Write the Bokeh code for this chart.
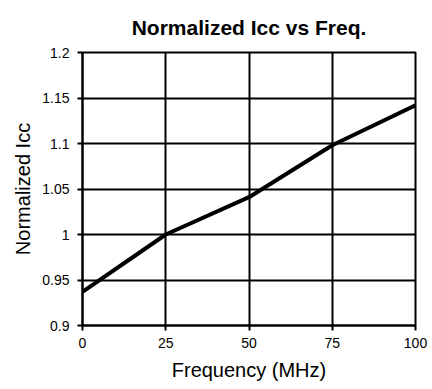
from bokeh.plotting import figure
from bokeh.models import Range1d, FixedTicker
from bokeh.embed import file_html
from bokeh.resources import INLINE

freq = [0, 25, 50, 75, 100]
icc = [0.937, 1.0, 1.041, 1.098, 1.142]
x_ticks = [0, 25, 50, 75, 100]
y_ticks = [0.9, 0.95, 1.0, 1.05, 1.1, 1.15, 1.2]
y_labels = {0.9: "0.9", 0.95: "0.95", 1.0: "1", 1.05: "1.05", 1.1: "1.1", 1.15: "1.15", 1.2: "1.2"}

FONT = "Liberation Sans"

p = figure(width=432, height=389, output_backend="svg", toolbar_location=None,
           x_range=Range1d(0, 100), y_range=Range1d(0.9, 1.2),
           title="Normalized Icc vs Freq.",
           min_border_left=82, min_border_right=17, min_border_top=52, min_border_bottom=64)

p.title.align = "center"
p.title.text_font = FONT
p.title.text_font_size = "21px"
p.title.text_font_style = "bold"
p.title.text_color = "black"
p.title.offset = 0
p.title.standoff = 27

p.line(freq, icc, line_color="black", line_width=4)

p.xaxis.ticker = FixedTicker(ticks=x_ticks)
p.yaxis.ticker = FixedTicker(ticks=y_ticks)
p.yaxis.major_label_overrides = y_labels
p.xaxis.axis_label = "Frequency (MHz)"
p.yaxis.axis_label = "Normalized Icc"

for ax in (p.xaxis, p.yaxis):
    ax.axis_label_text_font = FONT
    ax.axis_label_text_font_size = "20px"
    ax.axis_label_text_font_style = "normal"
    ax.axis_label_text_color = "black"
    ax.major_label_text_font = FONT
    ax.major_label_text_font_size = "14px"
    ax.major_label_text_color = "black"
    ax.axis_line_color = "black"
    ax.axis_line_width = 2
    ax.major_tick_line_color = "black"
    ax.major_tick_line_width = 2
    ax.major_tick_out = 5
    ax.major_tick_in = 0
    ax.minor_tick_line_color = None

p.xaxis.major_label_standoff = 7
p.yaxis.major_label_standoff = 8
p.xaxis.axis_label_standoff = 8
p.yaxis.axis_label_standoff = 5

for g in (p.xgrid, p.ygrid):
    g.grid_line_color = "black"
    g.grid_line_width = 2
    g.grid_line_alpha = 1.0

p.outline_line_color = "black"
p.outline_line_width = 2
p.outline_line_alpha = 1.0

open("out.html", "w").write(file_html(p, INLINE))
